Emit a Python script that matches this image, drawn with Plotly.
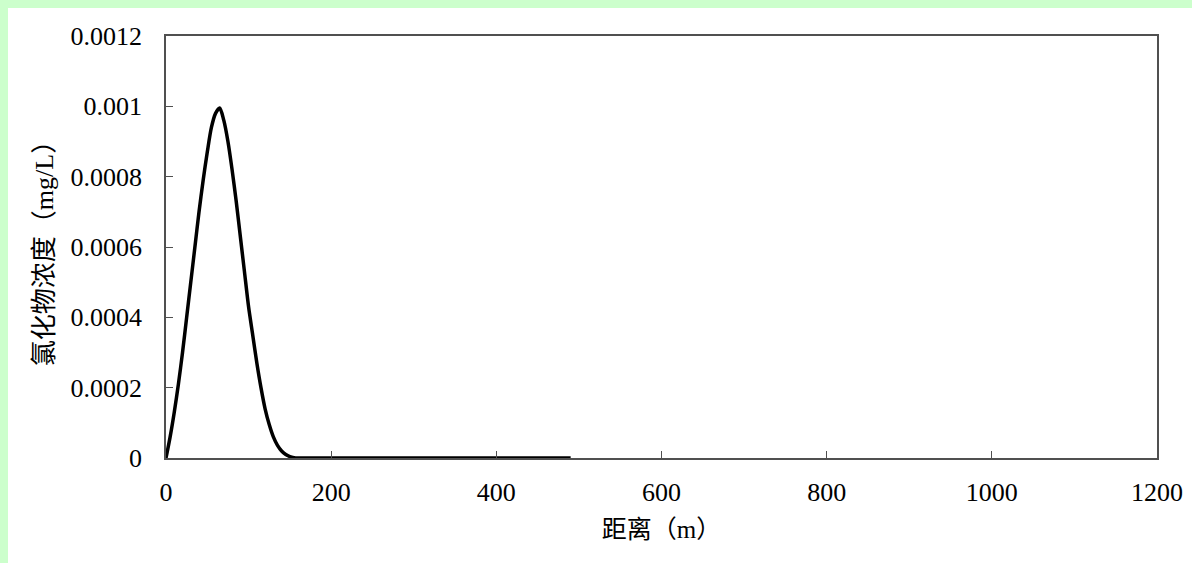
import plotly.graph_objects as go

# Distance along the flow path (m)
distance_m = [0, 5, 10, 15, 20, 25, 30, 35, 40, 45, 50, 55, 60, 65, 70, 75, 80,
              85, 90, 95, 100, 105, 110, 115, 120, 125, 130, 135, 140, 145, 150,
              155, 160, 170, 180, 200, 250, 300, 350, 400, 450, 490]

# Chloride concentration (mg/L)
chloride_mg_l = [0, 0.00006, 0.00013, 0.00021, 0.00030, 0.00040, 0.00050, 0.00060,
                 0.00070, 0.00079, 0.00087, 0.00094, 0.00098, 0.000995, 0.00096,
                 0.00090, 0.00082, 0.00073, 0.00063, 0.00053, 0.00043, 0.00035,
                 0.00027, 0.00020, 0.00014, 0.000095, 0.00006, 0.000036, 0.00002,
                 0.00001, 0.000004, 0.000001, 0, 0, 0, 0, 0, 0, 0, 0, 0, 0]

x_ticks = [0, 200, 400, 600, 800, 1000, 1200]
y_ticks = [0, 0.0002, 0.0004, 0.0006, 0.0008, 0.001, 0.0012]
y_tick_text = ["0", "0.0002", "0.0004", "0.0006", "0.0008", "0.001", "0.0012"]

FONT = "Liberation Serif, Noto Sans CJK SC, serif"
AXIS_COLOR = "#505050"

fig = go.Figure()
fig.add_trace(go.Scatter(
    x=distance_m, y=chloride_mg_l, mode="lines",
    line=dict(color="black", width=3.5, shape="spline", smoothing=0.8),
    showlegend=False,
))

# Light green frame strips along the top and left edges of the page
PLOT_L, PLOT_R, PLOT_T, PLOT_B = 166, 1157, 36, 458
W, H = 1192, 563


def px_to_paper_x(px):
    return (px - PLOT_L) / (PLOT_R - PLOT_L)


def px_to_paper_y(py):
    return (PLOT_B - py) / (PLOT_B - PLOT_T)


green = "#CCFFCC"
fig.add_shape(type="rect", xref="paper", yref="paper", layer="below",
              x0=px_to_paper_x(0), x1=px_to_paper_x(W),
              y0=px_to_paper_y(8), y1=px_to_paper_y(0),
              fillcolor=green, line_width=0)
fig.add_shape(type="rect", xref="paper", yref="paper", layer="below",
              x0=px_to_paper_x(0), x1=px_to_paper_x(8),
              y0=px_to_paper_y(H), y1=px_to_paper_y(0),
              fillcolor=green, line_width=0)

fig.update_layout(
    width=W, height=H,
    margin=dict(l=PLOT_L, r=W - PLOT_R, t=PLOT_T, b=H - PLOT_B, autoexpand=False),
    paper_bgcolor="white", plot_bgcolor="white",
    font=dict(family=FONT, color="black", size=26),
)

fig.update_xaxes(
    range=[0, 1200], tickvals=x_ticks, ticktext=[str(v) for v in x_ticks],
    showgrid=False, zeroline=False,
    showline=True, mirror=True, linecolor=AXIS_COLOR, linewidth=1.5,
    ticks="inside", ticklen=7, tickcolor=AXIS_COLOR, tickwidth=1.2,
    tickfont=dict(family=FONT, size=26, color="black"),
    ticklabelstandoff=10,
    title=dict(text="距离（m）", font=dict(family=FONT, size=25), standoff=15),
    automargin=False,
)
fig.update_yaxes(
    range=[0, 0.0012], tickvals=y_ticks, ticktext=y_tick_text,
    showgrid=False, zeroline=False,
    showline=True, mirror=True, linecolor=AXIS_COLOR, linewidth=1.5,
    ticks="inside", ticklen=7, tickcolor=AXIS_COLOR, tickwidth=1.2,
    tickfont=dict(family=FONT, size=26, color="black"),
    ticklabelstandoff=17,
    title=dict(text="氯化物浓度（mg/L）", font=dict(family=FONT, size=26), standoff=9),
    automargin=False,
)

fig.write_html("out.html")
